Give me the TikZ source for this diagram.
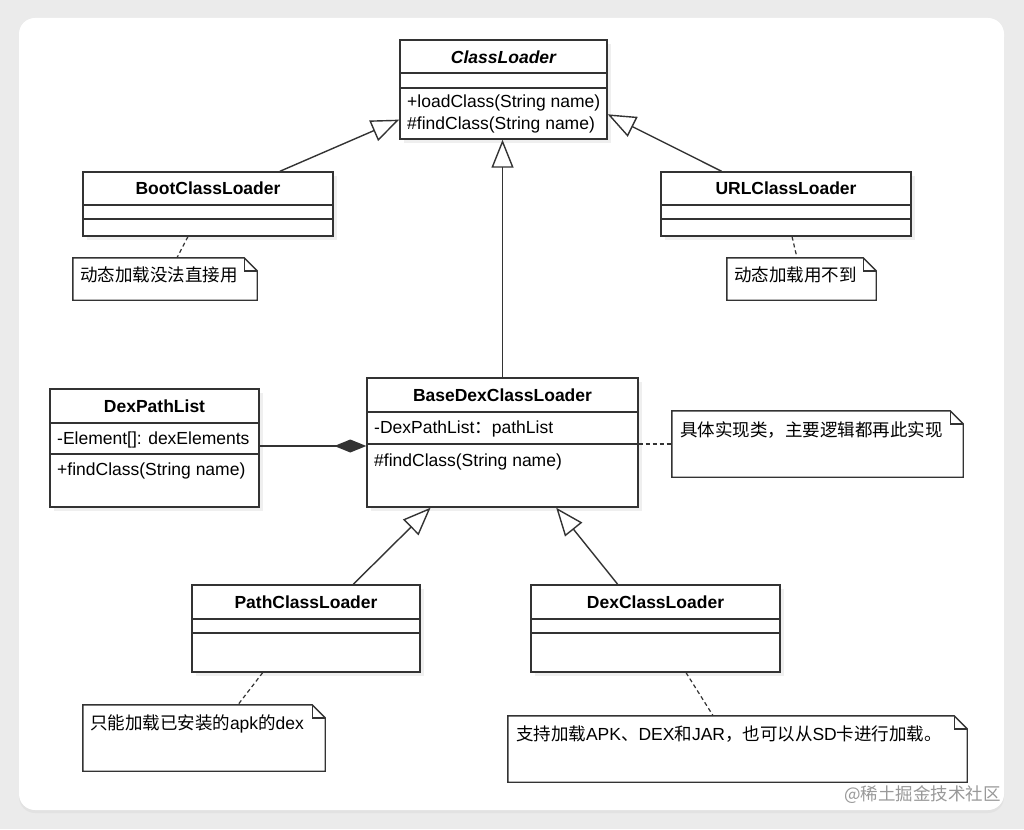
\documentclass[tikz,border=0pt]{standalone}
\usepackage{fontspec}
\setmainfont{Liberation Sans}
\newfontfamily\cjk{Noto Sans CJK SC}
\usetikzlibrary{arrows.meta,calc,shadows}

\definecolor{umlline}{HTML}{333333}
\definecolor{pagegray}{HTML}{EBEBEB}
\newcommand{\umlfont}{\fontsize{17.5}{21}\selectfont}

\tikzset{
  classbox/.style={draw=umlline,line width=1.4pt,fill=white,inner sep=0pt,
    drop shadow={opacity=0.12,shadow xshift=4pt,shadow yshift=-4pt}},
  classtitle/.style={inner sep=0pt,font=\umlfont\bfseries},
  member/.style={anchor=mid west,inner sep=0pt,font=\umlfont},
  notebox/.style={inner sep=0pt},
  notetext/.style={anchor=mid west,inner sep=0pt,font=\umlfont},
  inherit/.style={draw=umlline,line width=1.4pt,-{Triangle[open,length=28pt,width=22pt]}},
  compose/.style={draw=umlline,line width=1.4pt,-{Diamond[length=32pt,width=13pt]}},
  notelink/.style={draw=umlline,line width=1.2pt,dash pattern=on 4pt off 3pt},
}

\begin{document}
\begin{tikzpicture}[x=1pt,y=-1pt]
        % page and card
        \fill[pagegray] (0,0) rectangle (1024,829);
        \useasboundingbox (0,0) rectangle (1024,829);
        \fill[white,rounded corners=16pt,drop shadow={opacity=0.08,shadow xshift=0pt,shadow yshift=-3pt}] (19,18) rectangle (1004,810);

        % classes
        \node[classbox,minimum width=207pt,minimum height=99pt] (cl) at (503.5,89.5) {};
        \node[classbox,minimum width=250pt,minimum height=64pt] (boot) at (208,204) {};
        \node[classbox,minimum width=250pt,minimum height=64pt] (url) at (786,204) {};
        \node[classbox,minimum width=209pt,minimum height=118pt] (dpl) at (154.5,448) {};
        \node[classbox,minimum width=271pt,minimum height=129pt] (base) at (502.5,442.5) {};
        \node[classbox,minimum width=228pt,minimum height=87pt] (path) at (306,628.5) {};
        \node[classbox,minimum width=249pt,minimum height=87pt] (dex) at (655.5,628.5) {};

        % compartments
        \draw[umlline,line width=1.4pt] (cl.west |- 0,73) -- (cl.east |- 0,73) (cl.west |- 0,88) -- (cl.east |- 0,88);
        \draw[umlline,line width=1.4pt] (boot.west |- 0,205) -- (boot.east |- 0,205) (boot.west |- 0,219) -- (boot.east |- 0,219);
        \draw[umlline,line width=1.4pt] (url.west |- 0,205) -- (url.east |- 0,205) (url.west |- 0,219) -- (url.east |- 0,219);
        \draw[umlline,line width=1.4pt] (dpl.west |- 0,423) -- (dpl.east |- 0,423) (dpl.west |- 0,454) -- (dpl.east |- 0,454);
        \draw[umlline,line width=1.4pt] (base.west |- 0,412) -- (base.east |- 0,412) (base.west |- 0,444) -- (base.east |- 0,444);
        \draw[umlline,line width=1.4pt] (path.west |- 0,619) -- (path.east |- 0,619) (path.west |- 0,633) -- (path.east |- 0,633);
        \draw[umlline,line width=1.4pt] (dex.west |- 0,619) -- (dex.east |- 0,619) (dex.west |- 0,633) -- (dex.east |- 0,633);

        % titles and members
        \node[classtitle,font=\umlfont\bfseries\itshape] (cltitle) at (503.5,57) {ClassLoader};
        \node[member] (clload) at (407,105) {+loadClass(String name)};
        \node[member] (clfind) at (407,127) {\#findClass(String name)};
        \node[classtitle] (boottitle) at (208,188) {BootClassLoader};
        \node[classtitle] (urltitle) at (786,188) {URLClassLoader};
        \node[classtitle] (dpltitle) at (154.5,406) {DexPathList};
        \node[member] (dplattr) at (57,442) {-Element[]: dexElements};
        \node[member] (dplfind) at (57,473) {+findClass(String name)};
        \node[classtitle] (basetitle) at (502.5,395) {BaseDexClassLoader};
        \node[member] (baseattr) at (374,431) {-DexPathList{\cjk ：}pathList};
        \node[member] (basefind) at (374,464) {\#findClass(String name)};
        \node[classtitle] (pathtitle) at (306,602) {PathClassLoader};
        \node[classtitle] (dextitle) at (655.5,602) {DexClassLoader};

        % notes
        \node[notebox,minimum width=184pt,minimum height=42pt] (bootnote) at (165,279) {};
        \node[notebox,minimum width=149pt,minimum height=42pt] (urlnote) at (801.5,279) {};
        \node[notebox,minimum width=291pt,minimum height=66pt] (basenote) at (817.5,444) {};
        \node[notebox,minimum width=242pt,minimum height=66pt] (pathnote) at (204,738) {};
        \node[notebox,minimum width=459pt,minimum height=66pt] (dexnote) at (737.5,749) {};
        \foreach \n in {bootnote,urlnote,basenote,pathnote,dexnote}{
          \draw[umlline,line width=1.4pt,fill=white] (\n.north west) -- ([xshift=-13pt]\n.north east) -- ([yshift=-13pt]\n.north east) -- (\n.south east) -- (\n.south west) -- cycle;
          \draw[umlline,line width=1.4pt] ([xshift=-13pt]\n.north east) |- ([yshift=-13pt]\n.north east);
        }
        \node[notetext] (boottext) at ([xshift=7pt,yshift=-21pt]bootnote.north west) {\cjk 动态加载没法直接用};
        \node[notetext] (urltext) at ([xshift=7pt,yshift=-21pt]urlnote.north west) {\cjk 动态加载用不到};
        \node[notetext] (basetext) at ([xshift=8pt,yshift=-23pt]basenote.north west) {\cjk 具体实现类，主要逻辑都再此实现};
        \node[notetext] (pathtext) at ([xshift=7pt,yshift=-22pt]pathnote.north west) {{\cjk 只能加载已安装的}apk{\cjk 的}dex};
        \node[notetext] (dextext) at ([xshift=8pt,yshift=-22pt]dexnote.north west) {{\cjk 支持加载}APK{\cjk 、}DEX{\cjk 和}JAR{\cjk ，也可以从}SD{\cjk 卡进行加载。}};

        % inheritance
        \draw[inherit] ($(boot.north west)!0.786!(boot.north east)$) -- ($(cl.north west)!0.8!(cl.south west)$);
        \draw[inherit] ($(url.north west)!0.244!(url.north east)$) -- ($(cl.north east)!0.747!(cl.south east)$);
        \draw[inherit] (base.north) -- (base.north |- cl.south);
        \draw[inherit] ($(path.north west)!0.706!(path.north east)$) -- ($(base.south west)!0.236!(base.south east)$);
        \draw[inherit] ($(dex.north west)!0.349!(dex.north east)$) -- ($(base.south west)!0.697!(base.south east)$);

        % composition
        \draw[compose] (dpl.east |- 0,446) -- (base.west |- 0,446);

        % note links
        \draw[notelink] ($(boot.south west)!0.42!(boot.south east)$) -- ($(bootnote.north west)!0.565!(bootnote.north east)$);
        \draw[notelink] ($(url.south west)!0.524!(url.south east)$) -- ($(urlnote.north west)!0.47!(urlnote.north east)$);
        \draw[notelink] (base.east |- basenote.west) -- (basenote.west);
        \draw[notelink] ($(path.south west)!0.311!(path.south east)$) -- ($(pathnote.north west)!0.64!(pathnote.north east)$);
        \draw[notelink] ($(dex.south west)!0.622!(dex.south east)$) -- ($(dexnote.north west)!0.447!(dexnote.north east)$);

        % watermark
        \node[anchor=east,inner sep=0pt,text=black!40,font=\fontsize{17.5}{20}\selectfont\cjk] (mark) at (1001,795) {@稀土掘金技术社区};
\end{tikzpicture}
\end{document}
